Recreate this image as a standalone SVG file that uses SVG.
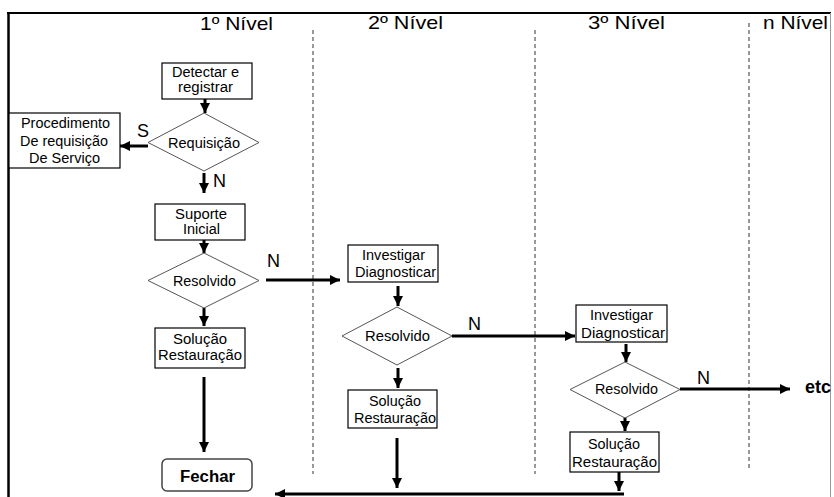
<svg xmlns="http://www.w3.org/2000/svg" width="834" height="497" viewBox="0 0 834 497">
<style>
.bx{fill:#fff;stroke:#000;stroke-width:1.2}
.dm{fill:#fff;stroke:#555;stroke-width:1}
.t{font-family:"Liberation Sans",Arial,sans-serif;font-size:14px;fill:#000;text-anchor:middle}
.h{font-family:"Liberation Sans",Arial,sans-serif;font-size:19px;fill:#000;text-anchor:middle}
.lb{font-family:"Liberation Sans",Arial,sans-serif;font-size:18px;fill:#000}
.b{font-family:"Liberation Sans",Arial,sans-serif;font-size:16px;font-weight:bold;fill:#000;text-anchor:middle}
.ar{fill:none;stroke:#000;stroke-width:3;marker-end:url(#ah)}
.dash{stroke:#333;stroke-width:1;stroke-dasharray:4 3}
</style>
<defs>
<marker id="ah" viewBox="0 0 10 10" markerWidth="10" markerHeight="10" markerUnits="userSpaceOnUse" refX="10" refY="5" orient="auto">
<path d="M0,0 L10,5 L0,10 z" fill="#000"/>
</marker>
</defs>
<rect width="834" height="497" fill="#fff"/>
<g id="frame">
<line x1="8.5" y1="12" x2="8.5" y2="497" stroke="#000" stroke-width="2.5"/>
<line x1="7" y1="13" x2="831" y2="13" stroke="#000" stroke-width="2"/>
<line x1="830.5" y1="13" x2="830.5" y2="497" stroke="#999" stroke-width="1"/>
</g>
<g id="lanes">
<line class="dash" x1="313" y1="30" x2="313" y2="474"/>
<line class="dash" x1="535" y1="30" x2="535" y2="474"/>
<line class="dash" x1="749" y1="23" x2="749" y2="468"/>
<text class="h" x="236.5" y="30" textLength="73" lengthAdjust="spacingAndGlyphs">1º Nível</text>
<text class="h" x="405.5" y="29" textLength="75" lengthAdjust="spacingAndGlyphs">2º Nível</text>
<text class="h" x="626.5" y="29" textLength="77" lengthAdjust="spacingAndGlyphs">3º Nível</text>
<text class="h" x="795.5" y="29" textLength="65" lengthAdjust="spacingAndGlyphs">n Nível</text>
</g>
<g id="connectors">
<line class="ar" x1="205" y1="99" x2="205" y2="113"/>
<line class="ar" x1="148" y1="146" x2="120" y2="146"/>
<line class="ar" x1="204" y1="173" x2="204" y2="193"/>
<line class="ar" x1="204" y1="240" x2="204" y2="253"/>
<line class="ar" x1="266" y1="280" x2="340" y2="280"/>
<line class="ar" x1="204" y1="308" x2="204" y2="326"/>
<line class="ar" x1="204" y1="377" x2="204" y2="452"/>
<line class="ar" x1="398" y1="286" x2="398" y2="306"/>
<line class="ar" x1="452" y1="336" x2="575" y2="336"/>
<line class="ar" x1="398" y1="368" x2="398" y2="388"/>
<line class="ar" x1="397" y1="438" x2="397" y2="488"/>
<line class="ar" x1="626" y1="344" x2="626" y2="362"/>
<line class="ar" x1="680" y1="389" x2="790" y2="389"/>
<line class="ar" x1="625" y1="414" x2="625" y2="431"/>
<line class="ar" x1="619" y1="472" x2="619" y2="491"/>
<line class="ar" x1="624" y1="494" x2="275" y2="494"/>
<text class="lb" x="137" y="137" font-size="17">S</text>
<text class="lb" x="213" y="187">N</text>
<text class="lb" x="267" y="267">N</text>
<text class="lb" x="468" y="330">N</text>
<text class="lb" x="697" y="384">N</text>
<text class="lb" x="805" y="393" font-weight="bold" font-size="20">etc</text>
</g>
<g id="detectar">
<rect class="bx" x="162" y="63" width="90" height="36"/>
<text class="t" x="205.5" y="77" textLength="67" lengthAdjust="spacingAndGlyphs">Detectar e</text>
<text class="t" x="205.5" y="92" textLength="55" lengthAdjust="spacingAndGlyphs">registrar</text>
</g>
<g id="requisicao">
<polygon class="dm" points="204,113 259,142.5 204,171 148,142.5"/>
<text class="t" x="204" y="148" textLength="72" lengthAdjust="spacingAndGlyphs">Requisição</text>
</g>
<g id="procedimento">
<rect class="bx" x="9" y="113" width="111" height="55"/>
<text class="t" x="65.5" y="128" textLength="89" lengthAdjust="spacingAndGlyphs">Procedimento</text>
<text class="t" x="64" y="146" textLength="88" lengthAdjust="spacingAndGlyphs">De requisição</text>
<text class="t" x="64.5" y="163" textLength="71" lengthAdjust="spacingAndGlyphs">De Serviço</text>
</g>
<g id="suporte">
<rect class="bx" x="155" y="204" width="90" height="36"/>
<text class="t" x="201" y="219" textLength="52" lengthAdjust="spacingAndGlyphs">Suporte</text>
<text class="t" x="201.5" y="234" textLength="37" lengthAdjust="spacingAndGlyphs">Inicial</text>
</g>
<g id="resolvido1">
<polygon class="dm" points="204,253 259,280.5 204,308 148,280.5"/>
<text class="t" x="204.5" y="286" textLength="63" lengthAdjust="spacingAndGlyphs">Resolvido</text>
</g>
<g id="solucao1">
<rect class="bx" x="155" y="328" width="90" height="40"/>
<text class="t" x="200" y="344" textLength="54" lengthAdjust="spacingAndGlyphs">Solução</text>
<text class="t" x="200" y="360" textLength="84" lengthAdjust="spacingAndGlyphs">Restauração</text>
</g>
<g id="fechar">
<rect x="162" y="459" width="90" height="32" rx="5" fill="#fff" stroke="#444" stroke-width="1.5"/>
<text class="b" x="207.5" y="482" textLength="55" lengthAdjust="spacingAndGlyphs">Fechar</text>
</g>
<g id="investigar2">
<rect class="bx" x="348" y="245" width="90" height="37"/>
<text class="t" x="393.5" y="260" textLength="63" lengthAdjust="spacingAndGlyphs">Investigar</text>
<text class="t" x="395.5" y="277" textLength="81" lengthAdjust="spacingAndGlyphs">Diagnosticar</text>
</g>
<g id="resolvido2">
<polygon class="dm" points="397,307 452,336 397,365 342,336"/>
<text class="t" x="397.5" y="341" textLength="65" lengthAdjust="spacingAndGlyphs">Resolvido</text>
</g>
<g id="solucao2">
<rect class="bx" x="348" y="390" width="89" height="38"/>
<text class="t" x="395" y="406" textLength="52" lengthAdjust="spacingAndGlyphs">Solução</text>
<text class="t" x="395" y="423" textLength="82" lengthAdjust="spacingAndGlyphs">Restauração</text>
</g>
<g id="investigar3">
<rect class="bx" x="576" y="305" width="91" height="37"/>
<text class="t" x="621.5" y="320" textLength="63" lengthAdjust="spacingAndGlyphs">Investigar</text>
<text class="t" x="623" y="338" textLength="84" lengthAdjust="spacingAndGlyphs">Diagnosticar</text>
</g>
<g id="resolvido3">
<polygon class="dm" points="625,362 680,389.5 625,418 570,389.5"/>
<text class="t" x="626.5" y="394" textLength="63" lengthAdjust="spacingAndGlyphs">Resolvido</text>
</g>
<g id="solucao3">
<rect class="bx" x="570" y="432" width="89" height="40"/>
<text class="t" x="614" y="449" textLength="52" lengthAdjust="spacingAndGlyphs">Solução</text>
<text class="t" x="614.5" y="467" textLength="85" lengthAdjust="spacingAndGlyphs">Restauração</text>
</g>
</svg>
